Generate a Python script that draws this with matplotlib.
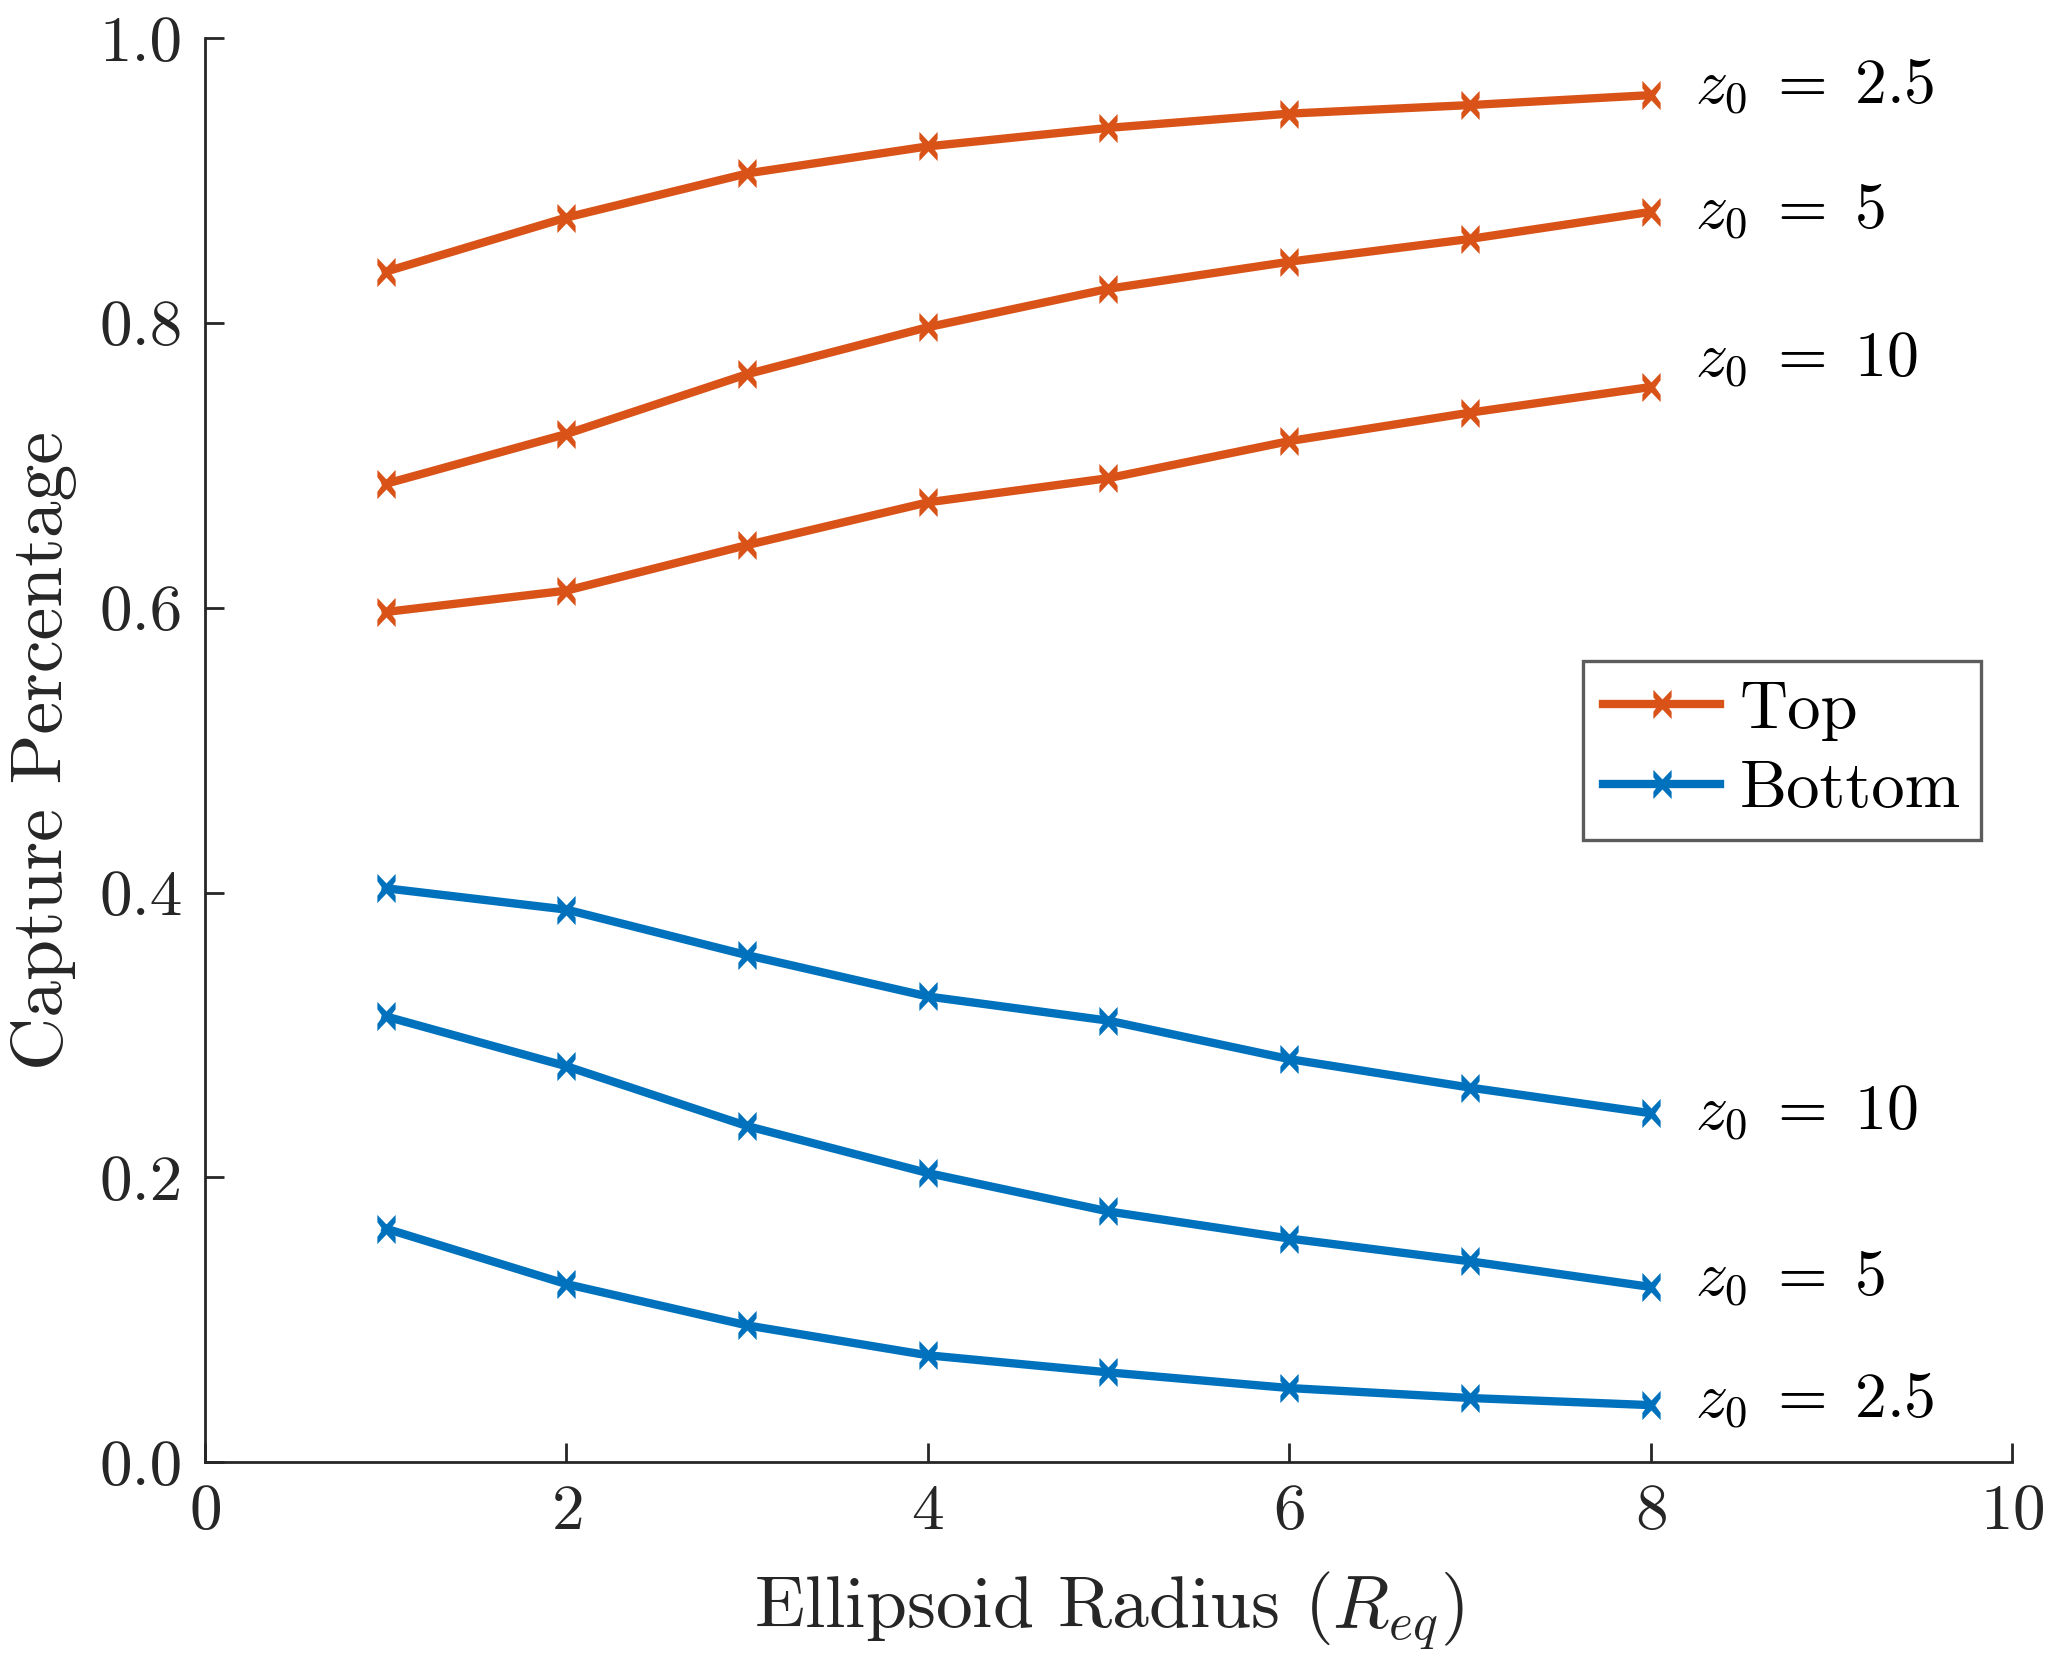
import matplotlib
matplotlib.use("Agg")
import matplotlib.pyplot as plt
from matplotlib.ticker import FormatStrFormatter
from matplotlib.path import Path

plt.rcParams['font.family'] = 'serif'
plt.rcParams['font.serif'] = ['cmr10']
plt.rcParams['mathtext.fontset'] = 'cm'
plt.rcParams['axes.formatter.use_mathtext'] = True

radius = [1, 2, 3, 4, 5, 6, 7, 8]
z0_labels = ['2.5', '5', '10']

top_z25 = [0.836, 0.874, 0.905, 0.924, 0.937, 0.947, 0.953, 0.960]
top_z5 = [0.687, 0.722, 0.764, 0.797, 0.824, 0.843, 0.859, 0.878]
top_z10 = [0.597, 0.612, 0.644, 0.674, 0.691, 0.717, 0.737, 0.755]

bot_z10 = [0.403, 0.388, 0.356, 0.327, 0.310, 0.283, 0.263, 0.245]
bot_z5 = [0.313, 0.278, 0.236, 0.203, 0.176, 0.157, 0.141, 0.123]
bot_z25 = [0.164, 0.125, 0.096, 0.075, 0.063, 0.052, 0.045, 0.040]

xticks = [0, 2, 4, 6, 8, 10]
yticks = [0.0, 0.2, 0.4, 0.6, 0.8, 1.0]

orange = '#D95319'
blue = '#0072BD'
axcol = '#262626'

# bow-tie shaped "x" marker like MATLAB's thick-stroke cross
bow = Path([(-1, 1.6), (0, 0.55), (1, 1.6), (1, 0.8), (0.42, 0), (1, -0.8),
            (1, -1.6), (0, -0.55), (-1, -1.6), (-1, -0.8), (-0.42, 0), (-1, 0.8),
            (-1, 1.6)], closed=True)

fig = plt.figure(figsize=(10.26, 8.295), dpi=200)
ax = fig.add_axes([0.0999, 0.1187, 0.8806, 0.8583])

lw = 3.0
ms = 10.5
top_series = [top_z25, top_z5, top_z10]
bot_series = [bot_z25, bot_z5, bot_z10]
for i, ys in enumerate(top_series):
    ax.plot(radius, ys, color=orange, lw=lw, marker=bow, ms=ms, mew=0,
            label='Top' if i == 0 else None)
for i, ys in enumerate(bot_series):
    ax.plot(radius, ys, color=blue, lw=lw, marker=bow, ms=ms, mew=0,
            label='Bottom' if i == 0 else None)

top_offsets = [3, 0, 9.5]
bot_offsets = [1.5, 3, 0]
for lab, ys, off in zip(z0_labels, top_series, top_offsets):
    ax.annotate(r'$z_0\;=\;%s$' % lab, xy=(radius[-1], ys[-1]), xytext=(16, off),
                textcoords='offset points', va='center', ha='left', fontsize=23,
                color='black')
for lab, ys, off in zip(z0_labels, bot_series, bot_offsets):
    ax.annotate(r'$z_0\;=\;%s$' % lab, xy=(radius[-1], ys[-1]), xytext=(16, off),
                textcoords='offset points', va='center', ha='left', fontsize=23,
                color='black')

ax.set_xlim(0, 10)
ax.set_ylim(0, 1.0)
ax.set_xticks(xticks)
ax.set_yticks(yticks)
ax.yaxis.set_major_formatter(FormatStrFormatter('%.1f'))
ax.tick_params(direction='in', length=7, width=1, colors=axcol, labelsize=23.5,
               labelcolor=axcol, pad=8)
for s in ['top', 'right']:
    ax.spines[s].set_visible(False)
for s in ['left', 'bottom']:
    ax.spines[s].set_color(axcol)
    ax.spines[s].set_linewidth(1)

ax.set_xlabel(r'Ellipsoid Radius ($R_{eq}$)', fontsize=26.5, color=axcol, labelpad=10)
ax.set_ylabel('Capture Percentage', fontsize=26.5, color=axcol, labelpad=8)

leg = ax.legend(loc='upper right', bbox_to_anchor=(0.983, 0.5625), fontsize=24,
                frameon=True, fancybox=False, edgecolor='#333333', numpoints=1,
                handlelength=1.75, borderpad=0.3, labelspacing=0.3,
                handletextpad=0.3, borderaxespad=0)
leg.get_frame().set_linewidth(1.2)

fig.savefig('out.png', dpi=200)
